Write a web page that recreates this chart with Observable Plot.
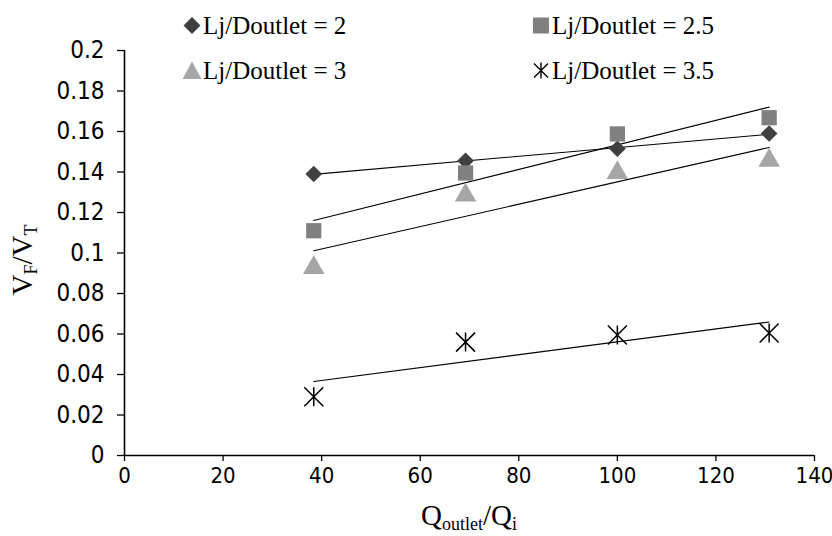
<!DOCTYPE html>
<html>
<head>
<meta charset="utf-8">
<script src="https://cdn.jsdelivr.net/npm/d3@7"></script>
<script src="https://cdn.jsdelivr.net/npm/@observablehq/plot@0.6"></script>
<style>
  body { margin: 0; background: #fff; }
  #wrap { position: relative; width: 832px; height: 536px; overflow: hidden; }
  #overlay { position: absolute; left: 0; top: 0; pointer-events: none; }
  #overlay text { font-family: "Liberation Serif", "Times New Roman", serif; fill: #000; }
</style>
</head>
<body>
<div id="wrap">
  <div id="chart"></div>
  <svg id="overlay" width="832" height="536" viewBox="0 0 832 536">
    <g id="legend" font-size="25"></g>
    <text id="ytitle" font-size="29" text-anchor="middle" transform="translate(32,260) rotate(-90)">V<tspan font-size="18" dy="5">F</tspan><tspan dy="-5">/V</tspan><tspan font-size="18" dy="5">T</tspan></text>
    <text id="xtitle" font-size="29" text-anchor="middle" x="469" y="525">Q<tspan font-size="18" dy="5">outlet</tspan><tspan dy="-5">/Q</tspan><tspan font-size="18" dy="5">i</tspan></text>
  </svg>
</div>
<script>
// ---- data ----
const qRatio = [38.4, 69.2, 100, 130.8];
const seriesNames = ["Lj/Doutlet = 2", "Lj/Doutlet = 2.5", "Lj/Doutlet = 3", "Lj/Doutlet = 3.5"];
const vRatio2 = [0.139, 0.1455, 0.1515, 0.159];
const vRatio25 = [0.111, 0.1395, 0.1588, 0.1668];
const vRatio3 = [0.0927, 0.1285, 0.1396, 0.1457];
const vRatio35 = [0.029, 0.056, 0.0595, 0.0605];
const xTicks = [0, 20, 40, 60, 80, 100, 120, 140];
const yTicks = [0, 0.02, 0.04, 0.06, 0.08, 0.1, 0.12, 0.14, 0.16, 0.18, 0.2];

// custom marker: X with a vertical bar (Excel "star" marker)
const starSymbol = {
  draw(ctx, size) {
    const r = Math.sqrt(size / Math.PI);
    ctx.moveTo(0, -r); ctx.lineTo(0, r);
    ctx.moveTo(-r, -r); ctx.lineTo(r, r);
    ctx.moveTo(r, -r); ctx.lineTo(-r, r);
  }
};

const seriesValues = [vRatio2, vRatio25, vRatio3, vRatio35];
const seriesSymbols = ["diamond2", "square", "triangle", starSymbol];
const seriesColors = ["#404040", "#808080", "#a6a6a6", "#000000"];

const rows = [];
seriesNames.forEach((name, i) => {
  qRatio.forEach((q, j) => rows.push({series: name, idx: i, x: q, y: seriesValues[i][j]}));
});
const bySeries = i => rows.filter(r => r.idx === i);

const plot = Plot.plot({
  width: 832,
  height: 536,
  marginLeft: 124,
  marginRight: 18,
  marginTop: 50,
  marginBottom: 81,
  style: {fontFamily: "'Liberation Sans Narrow', 'DejaVu Sans Condensed', sans-serif", fontSize: "24px", color: "#000", background: "#fff"},
  x: {domain: [0, 140]},
  y: {domain: [0, 0.2]},
  marks: [
    Plot.axisX({ticks: xTicks, tickSize: 6, tickPadding: 6, label: null, tickFormat: d => String(d), strokeWidth: 1.3, fontSize: 22}),
    Plot.axisY({ticks: yTicks, tickSize: 7, tickPadding: 13, label: null, tickFormat: d => String(+d.toFixed(2)), strokeWidth: 1.3}),
    Plot.ruleY([0], {stroke: "#000", strokeWidth: 1.6}),
    Plot.ruleX([0], {stroke: "#000", strokeWidth: 1.6}),
    Plot.linearRegressionY(rows, {x: "x", y: "y", z: "series", stroke: "#000", strokeWidth: 1.1, ci: 0}),
    Plot.dot(bySeries(0), {x: "x", y: "y", symbol: () => seriesSymbols[0], fill: seriesColors[0], r: 7.5, stroke: "none"}),
    Plot.dot(bySeries(1), {x: "x", y: "y", symbol: () => seriesSymbols[1], fill: seriesColors[1], r: 8.6, stroke: "none"}),
    Plot.dot(bySeries(2), {x: "x", y: "y", symbol: () => seriesSymbols[2], fill: seriesColors[2], r: 8, stroke: "none"}),
    Plot.dot(bySeries(3), {x: "x", y: "y", symbol: () => seriesSymbols[3], stroke: seriesColors[3], r: 9.5, strokeWidth: 1.5, fill: "none"})
  ]
});
document.getElementById("chart").appendChild(plot);

// ---- legend (2 x 2 grid) ----
const ns = "http://www.w3.org/2000/svg";
const legend = document.getElementById("legend");
const legendCols = [192, 541];
const legendRows = [34, 79];
const legendMarkers = [
  cx => `<path d="M${cx},${-8.5}L${cx + 8.5},0L${cx},8.5L${cx - 8.5},0Z" fill="${seriesColors[0]}"/>`,
  cx => `<rect x="${cx - 8}" y="-8" width="16" height="16" fill="${seriesColors[1]}"/>`,
  cx => `<path d="M${cx},-9L${cx + 9.5},8.5L${cx - 9.5},8.5Z" fill="${seriesColors[2]}"/>`,
  cx => `<path d="M${cx - 7},-7L${cx + 7},7M${cx + 7},-7L${cx - 7},7M${cx},-8L${cx},8" stroke="#000" stroke-width="1.4" fill="none"/>`
];
seriesNames.forEach((name, i) => {
  const col = i % 2, row = Math.floor(i / 2);
  const g = document.createElementNS(ns, "g");
  g.setAttribute("transform", `translate(0,${legendRows[row] - 8.5})`);
  g.innerHTML = legendMarkers[i](legendCols[col]) +
    `<text x="${legendCols[col] + 11}" y="8.5">${name}</text>`;
  legend.appendChild(g);
});
</script>
</body>
</html>
